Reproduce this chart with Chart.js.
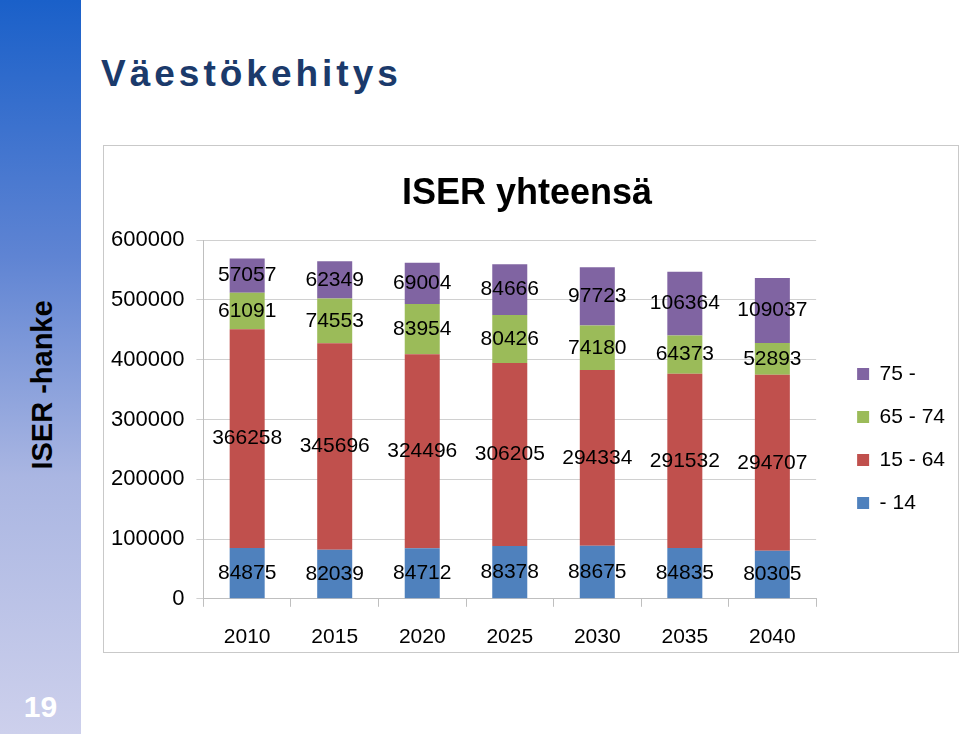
<!DOCTYPE html>
<html>
<head>
    <title>Väestökehitys</title>
    <meta charset="utf-8" />
    <script src="https://cdn.jsdelivr.net/npm/chart.js@4.4.1/dist/chart.umd.min.js"></script>
    <style>
        html, body {
            margin: 0;
            padding: 0;
            width: 960px;
            height: 734px;
            overflow: hidden;
            background: #fff;
            font-family: "Liberation Sans", Arial, sans-serif;
        }
        .side {
            position: absolute;
            left: 0; top: 0;
            width: 81px; height: 734px;
            background: linear-gradient(to bottom, #1a60c9 0%, #5f84d3 35%, #aab6e2 65%, #cdd0ec 100%);
        }
        .side .vert {
            position: absolute;
            left: 42px; top: 385px;
            transform: translate(-50%, -50%) rotate(-90deg);
            white-space: nowrap;
            font-weight: bold;
            font-size: 29px;
            color: #000;
        }
        .side .num {
            position: absolute;
            left: 0; width: 81px;
            top: 690px;
            text-align: center;
            font-weight: bold;
            font-size: 30px;
            color: #fff;
        }
        h1 {
            position: absolute;
            left: 101px; top: 53px;
            margin: 0;
            font-size: 37px;
            letter-spacing: 4px;
            color: #1b3a6b;
        }
        .chart-box {
            position: absolute;
            left: 103px; top: 145px;
            width: 856px; height: 508px;
            box-sizing: border-box;
            border: 1px solid #c9c9c9;
        }
        #chart {
            position: absolute;
            left: 0; top: 0;
        }
    </style>
</head>
<body>
    <div class="side">
        <div class="vert">ISER -hanke</div>
        <div class="num">19</div>
    </div>
    <h1>Väestökehitys</h1>
    <div class="chart-box"><canvas id="chart" width="854" height="506"></canvas></div>

    <script>
        const years = ['2010', '2015', '2020', '2025', '2030', '2035', '2040'];
        const age0_14 = [84875, 82039, 84712, 88378, 88675, 84835, 80305];
        const age15_64 = [366258, 345696, 324496, 306205, 294334, 291532, 294707];
        const age65_74 = [61091, 74553, 83954, 80426, 74180, 64373, 52893];
        const age75 = [57057, 62349, 69004, 84666, 97723, 106364, 109037];

        const font = "'Liberation Sans', Arial, sans-serif";

        // values written in the middle of each bar segment
        const segmentLabels = {
            id: 'segmentLabels',
            afterDatasetsDraw(chart) {
                const ctx = chart.ctx;
                ctx.save();
                ctx.font = '21px ' + font;
                ctx.fillStyle = '#000';
                ctx.textAlign = 'center';
                ctx.textBaseline = 'middle';
                chart.data.datasets.forEach((ds, i) => {
                    chart.getDatasetMeta(i).data.forEach((bar, j) => {
                        ctx.fillText(String(ds.data[j]), bar.x, (bar.y + bar.base) / 2);
                    });
                });
                ctx.restore();
            }
        };

        new Chart(document.getElementById('chart'), {
            type: 'bar',
            data: {
                labels: years,
                datasets: [
                    { label: '- 14', data: age0_14, backgroundColor: '#4f81bd' },
                    { label: '15 - 64', data: age15_64, backgroundColor: '#c0504d' },
                    { label: '65 - 74', data: age65_74, backgroundColor: '#9bbb59' },
                    { label: '75 -', data: age75, backgroundColor: '#8064a2' }
                ]
            },
            options: {
                responsive: false,
                animation: false,
                datasets: {
                    bar: { categoryPercentage: 1, barPercentage: 0.4 }
                },
                // the axes keep an extra tick padding on their outer side, taken back here
                layout: { padding: { left: -5, right: 3, bottom: -16 } },
                plugins: {
                    title: {
                        display: true,
                        text: 'ISER yhteensä',
                        color: '#000',
                        font: { family: font, size: 36, weight: 'bold' },
                        padding: { top: 26, bottom: 25 }
                    },
                    legend: {
                        position: 'right',
                        reverse: true,
                        title: {
                            display: true,
                            text: '',
                            font: { size: 10 },
                            padding: { top: 0, bottom: 51 }
                        },
                        labels: {
                            color: '#000',
                            font: { family: font, size: 21 },
                            boxWidth: 12,
                            boxHeight: 12,
                            padding: 22
                        }
                    },
                    tooltip: { enabled: false }
                },
                scales: {
                    x: {
                        stacked: true,
                        grid: {
                            offset: true,
                            drawOnChartArea: false,
                            tickLength: 8,
                            color: '#bfbfbf'
                        },
                        border: { color: '#bfbfbf' },
                        ticks: {
                            color: '#000',
                            font: { family: font, size: 21 },
                            padding: 18
                        }
                    },
                    y: {
                        stacked: true,
                        min: 0,
                        max: 600000,
                        grid: { color: '#d0d0d0', tickLength: 7 },
                        border: { color: '#bfbfbf' },
                        ticks: {
                            stepSize: 100000,
                            color: '#000',
                            font: { family: font, size: 22 },
                            padding: 12,
                            callback: (v) => String(v)
                        }
                    },
                    // empty space between the bars and the legend
                    gap: {
                        position: 'right',
                        display: true,
                        grid: { display: false },
                        border: { display: false },
                        ticks: { display: false },
                        afterFit(scale) { scale.width = 19; }
                    }
                }
            },
            plugins: [segmentLabels]
        });
    </script>
</body>
</html>
